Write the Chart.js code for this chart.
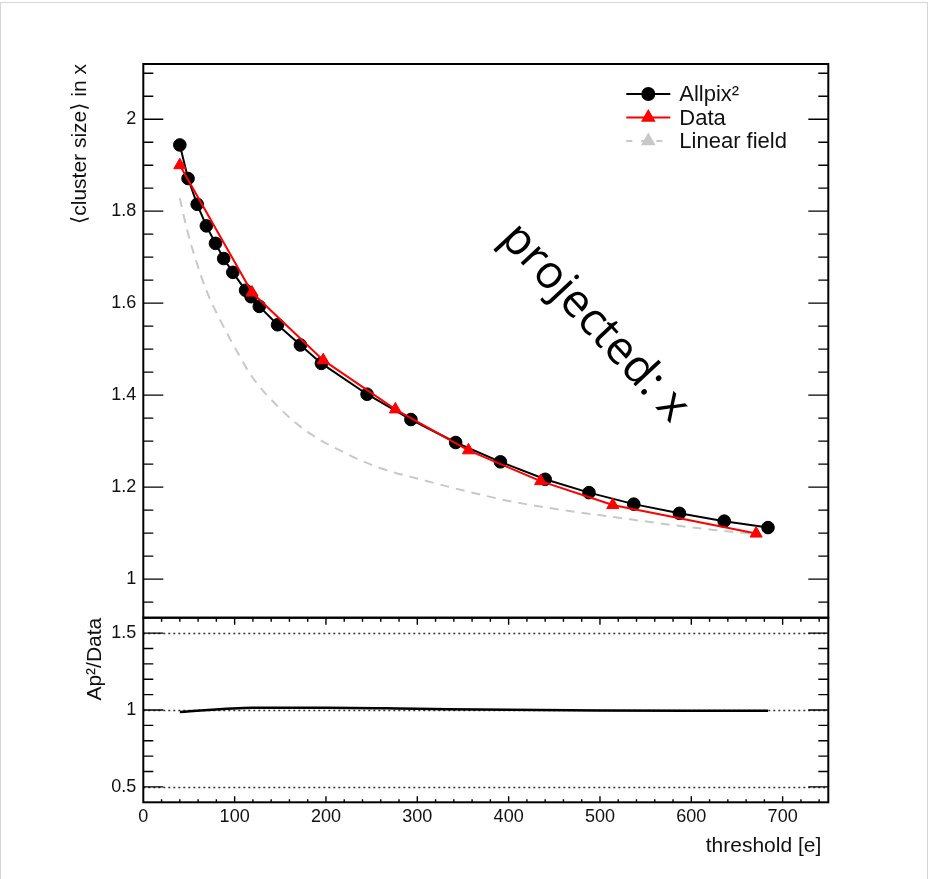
<!DOCTYPE html>
<html>
<head>
<meta charset="utf-8">
<script src="https://cdn.jsdelivr.net/npm/chart.js@4/dist/chart.umd.min.js"></script>
<style>
  html, body { margin: 0; padding: 0; background: #fff; }
  #page { position: relative; width: 930px; height: 879px; overflow: hidden; }
  #sheet { position: absolute; left: 0; top: 2px; width: 928px; height: 900px; border: 1px solid #d6d6d6; box-sizing: border-box; }
  #plot { position: absolute; left: 0; top: 0; }
</style>
</head>
<body>
<div id="page">
  <div id="sheet"></div>
  <canvas id="plot" width="930" height="879"></canvas>
</div>
<script>
// Mean cluster size in x versus threshold
const allpixThreshold = [40, 49, 59, 69, 79, 88, 98, 112, 118, 127, 147, 172, 195, 245, 293, 342, 391, 440, 488, 537, 587, 636, 684];
const allpixCluster   = [1.944, 1.871, 1.815, 1.768, 1.730, 1.697, 1.667, 1.628, 1.614, 1.593, 1.553, 1.509, 1.469, 1.402, 1.347, 1.297, 1.255, 1.217, 1.188, 1.163, 1.143, 1.126, 1.112];

const dataThreshold = [40, 119, 197, 276, 356, 435, 514, 671];
const dataCluster   = [1.900, 1.623, 1.476, 1.369, 1.280, 1.213, 1.161, 1.099];

const linearThreshold = [40, 48, 57, 69, 86, 106, 119, 150, 180, 220, 260, 307, 356, 405, 460, 515, 570, 624, 671];
const linearCluster   = [1.828, 1.759, 1.697, 1.628, 1.556, 1.483, 1.440, 1.370, 1.320, 1.275, 1.241, 1.215, 1.190, 1.168, 1.150, 1.135, 1.120, 1.107, 1.098];

// Allpix² / Data
const ratioThreshold = [40, 120, 200, 300, 400, 500, 600, 684];
const ratioValue     = [0.987, 1.015, 1.015, 1.008, 1.001, 0.997, 0.995, 0.995];

// Axis ticks
const xTickValues  = [0, 100, 200, 300, 400, 500, 600, 700];
const clusterTicks = [1, 1.2, 1.4, 1.6, 1.8, 2];
const ratioTicks   = [0.5, 1, 1.5];
const ratioGuides  = [0.5, 1, 1.5];

const FONT = '"Liberation Sans", Arial, "DejaVu Sans", sans-serif';
const INK = '#111';

const pts = (xs, ys) => xs.map((x, i) => ({ x, y: ys[i] }));
const plain = v => String(+(+v).toFixed(2));

function range(from, to, step) {
  const out = [];
  for (let v = from; v <= to + 1e-9; v += step) out.push(Math.round(v * 1000) / 1000);
  return out;
}

// ROOT-like frames, inward ticks, legend, axis title and the rotated note
const padDecor = {
  id: 'padDecor',
  beforeDatasetsDraw(chart) {
    const { ctx, scales: { x, yr } } = chart;
    ctx.save();
    ctx.strokeStyle = '#333';
    ctx.lineWidth = 1.3;
    ctx.setLineDash([2, 3]);
    for (const v of ratioGuides) {
      const py = Math.round(yr.getPixelForValue(v)) + 0.5;
      ctx.beginPath();
      ctx.moveTo(x.left, py);
      ctx.lineTo(x.right, py);
      ctx.stroke();
    }
    ctx.restore();
  },
  afterDraw(chart) {
    const { ctx, scales: { x, y, yr } } = chart;
    ctx.save();
    ctx.strokeStyle = '#000';

    const yTicks = (scale, major, minor, majLen, minLen) => {
      ctx.beginPath();
      const put = (v, len) => {
        const py = scale.getPixelForValue(v);
        if (py < scale.top + 1 || py > scale.bottom - 1) return;
        ctx.moveTo(x.left, py); ctx.lineTo(x.left + len, py);
        ctx.moveTo(x.right, py); ctx.lineTo(x.right - len, py);
      };
      minor.forEach(v => put(v, minLen));
      major.forEach(v => put(v, majLen));
      ctx.stroke();
    };
    const xTicks = (top, bottom, majLen, minLen, downLen, downMin) => {
      ctx.beginPath();
      range(0, 740, 20).forEach(v => {
        const px = x.getPixelForValue(v);
        if (px < x.left + 1 || px > x.right - 1) return;
        const major = Math.abs(v % 100) < 1e-6;
        ctx.moveTo(px, bottom); ctx.lineTo(px, bottom - (major ? majLen : minLen));
        ctx.moveTo(px, top); ctx.lineTo(px, top + (major ? downLen : downMin));
      });
      ctx.stroke();
    };

    ctx.lineWidth = 1.4;
    yTicks(y, clusterTicks, range(0.95, 2.1, 0.05), 20, 10);
    yTicks(yr, ratioTicks, range(0.4, 1.6, 0.1), 20, 10);
    xTicks(yr.top, yr.bottom, 6, 3, 7, 4);

    // pad frames
    ctx.lineWidth = 2;
    ctx.strokeRect(x.left, y.top, x.right - x.left, y.bottom - y.top);
    ctx.strokeRect(x.left, yr.top, x.right - x.left, yr.bottom - yr.top);

    // x axis title, right aligned under the lower pad
    ctx.fillStyle = INK;
    ctx.font = '21px ' + FONT;
    ctx.textAlign = 'right';
    ctx.textBaseline = 'middle';
    ctx.fillText('threshold [e]', x.right - 7, yr.bottom + 44);

    // legend
    const ds = chart.data.datasets;
    const lx = x.right - 202, rows = [y.top + 30, y.top + 53.5, y.top + 77];
    const entries = [ds[1], ds[0], ds[2]];
    ctx.font = '22px ' + FONT;
    ctx.textAlign = 'left';
    entries.forEach((d, i) => {
      const ry = rows[i];
      ctx.save();
      ctx.strokeStyle = d.borderColor;
      ctx.lineWidth = d.borderWidth;
      ctx.setLineDash(d.legendDash || []);
      ctx.beginPath();
      ctx.moveTo(lx, ry); ctx.lineTo(lx + 44, ry);
      ctx.stroke();
      ctx.setLineDash([]);
      Chart.helpers.drawPoint(ctx, {
        pointStyle: d.legendPoint, radius: d.legendRadius, borderWidth: 1, rotation: 0
      }, lx + 22, ry);
      ctx.fillStyle = d.legendFill;
      ctx.strokeStyle = d.legendFill;
      ctx.fill();
      ctx.restore();
      ctx.fillStyle = INK;
      ctx.fillText(d.label, lx + 53, ry + 1);
    });

    // rotated note
    ctx.save();
    ctx.translate(x.getPixelForValue(494), y.getPixelForValue(1.557));
    ctx.rotate(47 * Math.PI / 180);
    ctx.font = '46px "Open Sans", "Noto Sans", sans-serif';
    ctx.fillStyle = '#000';
    ctx.textAlign = 'center';
    ctx.textBaseline = 'middle';
    ctx.fillText('projected: x', 0, 0);
    ctx.restore();

    ctx.restore();
  }
};

const tickFont = { family: FONT, size: 18 };
const noGrid = { display: false, drawTicks: false };

new Chart(document.getElementById('plot'), {
  type: 'line',
  data: {
    datasets: [
      {
        label: 'Data',
        data: pts(dataThreshold, dataCluster),
        borderColor: '#ff0000', backgroundColor: '#ff0000', borderWidth: 2,
        pointStyle: 'triangle', pointRadius: 7, pointBorderWidth: 1,
        pointBackgroundColor: '#ff0000', pointBorderColor: '#ff0000',
        yAxisID: 'y', order: 0,
        legendPoint: 'triangle', legendRadius: 6.5, legendFill: '#ff0000'
      },
      {
        label: 'Allpix²',
        data: pts(allpixThreshold, allpixCluster),
        borderColor: '#000', backgroundColor: '#000', borderWidth: 2,
        pointStyle: 'circle', pointRadius: 6.3, pointBorderWidth: 1,
        pointBackgroundColor: '#000', pointBorderColor: '#000',
        yAxisID: 'y', order: 1,
        legendPoint: 'circle', legendRadius: 6, legendFill: '#000'
      },
      {
        label: 'Linear field',
        data: pts(linearThreshold, linearCluster),
        borderColor: '#c8c8c8', borderWidth: 2, borderDash: [9, 7],
        pointRadius: 0, cubicInterpolationMode: 'monotone',
        yAxisID: 'y', order: 2,
        legendPoint: 'triangle', legendRadius: 6.5, legendFill: '#c8c8c8', legendDash: [6, 9]
      },
      {
        label: 'Ap²/Data',
        data: pts(ratioThreshold, ratioValue),
        borderColor: '#000', borderWidth: 2.5, pointRadius: 0,
        cubicInterpolationMode: 'monotone',
        yAxisID: 'yr', order: 3
      }
    ]
  },
  options: {
    responsive: false,
    animation: false,
    layout: { padding: { left: 60, right: 101.7, top: 64, bottom: 20 } },
    plugins: { legend: { display: false }, tooltip: { enabled: false } },
    scales: {
      x: {
        type: 'linear', position: 'bottom', min: 0, max: 750,
        grid: noGrid, border: { display: false },
        afterBuildTicks: s => { s.ticks = xTickValues.map(v => ({ value: v })); },
        afterFit: s => { s.height = 56.7; },
        ticks: { font: tickFont, color: INK, padding: 4, maxRotation: 0, autoSkip: false, callback: plain }
      },
      yr: {
        type: 'linear', position: 'left', stack: 'pads', stackWeight: 1, weight: 1,
        min: 0.4, max: 1.6,
        grid: noGrid, border: { display: false },
        afterBuildTicks: s => { s.ticks = ratioTicks.map(v => ({ value: v })); },
        afterFit: s => { s.width = 83.3; },
        ticks: { font: tickFont, color: INK, padding: 7, callback: plain },
        title: { display: true, text: 'Ap²/Data', align: 'end', color: INK,
                 font: { family: FONT, size: 21 }, padding: { top: 22.4, bottom: 0 } }
      },
      y: {
        type: 'linear', position: 'left', stack: 'pads', stackWeight: 3, weight: 2,
        min: 0.916, max: 2.12,
        grid: noGrid, border: { display: false },
        afterBuildTicks: s => { s.ticks = clusterTicks.map(v => ({ value: v })); },
        afterFit: s => { s.width = 83.3; },
        ticks: { font: tickFont, color: INK, padding: 7, callback: plain },
        title: { display: true, text: '⟨cluster size⟩ in x', align: 'end', color: INK,
                 font: { family: FONT, size: 21 }, padding: { top: 7.4, bottom: 0 } }
      }
    }
  },
  plugins: [padDecor]
});
</script>
</body>
</html>
